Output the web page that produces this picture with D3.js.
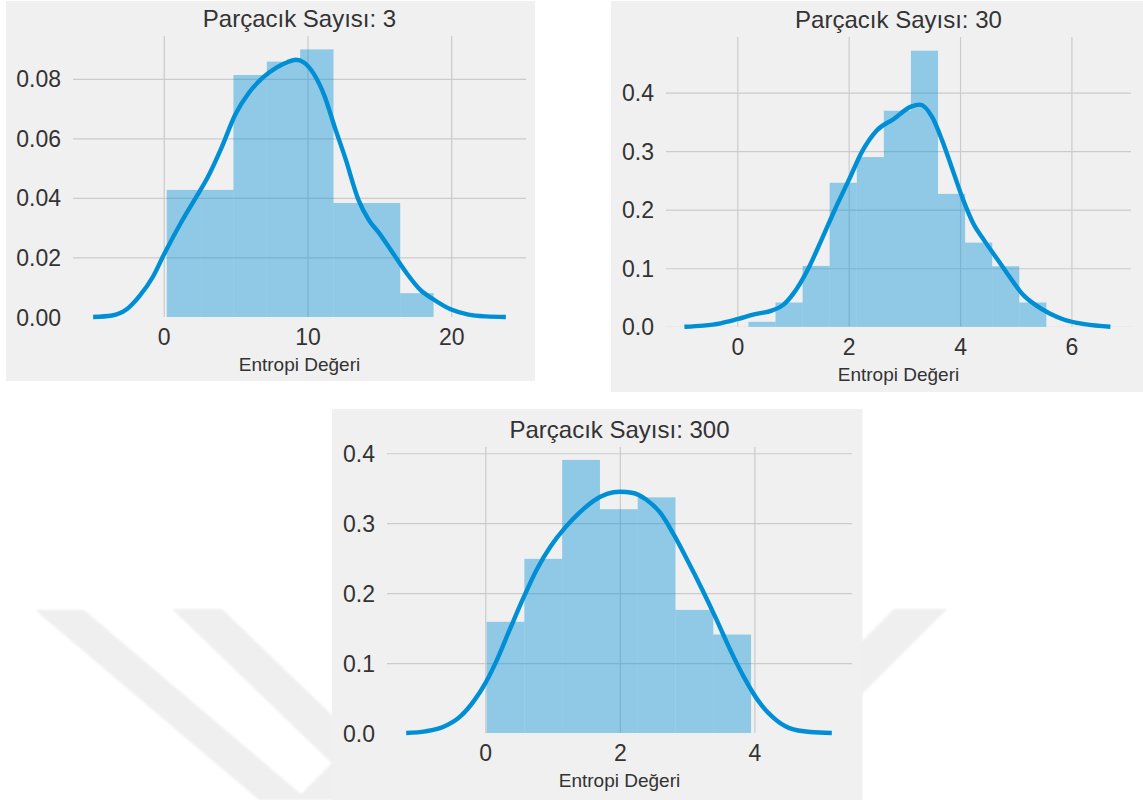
<!DOCTYPE html>
<html>
<head>
<meta charset="utf-8">
<script src="https://cdn.jsdelivr.net/npm/d3@7"></script>
<style>
  body { margin: 0; background: #ffffff; }
  svg { display: block; }
  text { font-family: "Liberation Sans", Arial, Helvetica, sans-serif; fill: #333333; }
</style>
</head>
<body>
<svg id="chart" width="1143" height="800"></svg>
<script>
// ---- Data: histogram densities and KDE curves of entropy values ----
const xLabel = "Entropi Değeri";

// 3 particles
const title3 = "Parçacık Sayısı: 3";
const binEdges3 = [0.21, 2.53, 4.85, 7.17, 9.49, 11.81, 14.13, 16.45, 18.77];
const density3 = [0.0427, 0.0427, 0.0813, 0.0858, 0.0899, 0.0383, 0.0383, 0.0080];
const kdeX3 = [-4.91, -3.6, -2.6, -1.69, -0.74, 0, 1.17, 2.12, 3.07, 4.03, 4.98, 5.94, 6.89, 7.84, 8.6, 9.2, 9.75, 10.46, 11.18, 11.9, 12.61, 13.56, 14.28, 15.0, 15.95, 16.9, 17.85, 18.8, 20, 21.2, 22.4, 23.8];
const kdeY3 = [0, 0.0005, 0.0025, 0.007, 0.0136, 0.0208, 0.0314, 0.0392, 0.047, 0.057, 0.068, 0.0754, 0.0804, 0.0838, 0.0856, 0.0864, 0.0855, 0.0815, 0.0743, 0.0637, 0.0537, 0.0392, 0.0325, 0.0281, 0.0214, 0.0147, 0.0091, 0.0058, 0.0025, 0.0008, 0.0002, 0];
const xTicks3 = [0, 10, 20];
const yTicks3 = [0, 0.02, 0.04, 0.06, 0.08];
const yTickLabels3 = ["0.00", "0.02", "0.04", "0.06", "0.08"];

// 30 particles
const title30 = "Parçacık Sayısı: 30";
const binEdges30 = [0.20, 0.686, 1.173, 1.659, 2.146, 2.632, 3.118, 3.605, 4.091, 4.578, 5.064, 5.55];
const density30 = [0.0085, 0.0415, 0.104, 0.246, 0.290, 0.369, 0.4716, 0.227, 0.1438, 0.1034, 0.0415];
const kdeX30 = [-0.95, -0.61, -0.30, 0, 0.32, 0.63, 0.82, 1.01, 1.26, 1.51, 1.76, 2.0, 2.25, 2.50, 2.81, 3.12, 3.28, 3.5, 3.68, 3.87, 4.06, 4.24, 4.43, 4.68, 4.93, 5.11, 5.36, 5.61, 5.86, 6.24, 6.70];
const kdeY30 = [0, 0.002, 0.006, 0.013, 0.0216, 0.028, 0.037, 0.057, 0.0966, 0.148, 0.2017, 0.25, 0.301, 0.335, 0.355, 0.376, 0.3795, 0.358, 0.318, 0.267, 0.216, 0.176, 0.148, 0.114, 0.08, 0.057, 0.037, 0.0227, 0.0125, 0.0045, 0];
const xTicks30 = [0, 2, 4, 6];
const yTicks30 = [0, 0.1, 0.2, 0.3, 0.4];
const yTickLabels30 = ["0.0", "0.1", "0.2", "0.3", "0.4"];

// 300 particles
const title300 = "Parçacık Sayısı: 300";
const binEdges300 = [0.02, 0.581, 1.143, 1.704, 2.266, 2.827, 3.388, 3.95];
const density300 = [0.159, 0.249, 0.3905, 0.32, 0.337, 0.176, 0.1408];
const kdeX300 = [-1.175, -0.89, -0.63, -0.37, -0.16, 0, 0.15, 0.36, 0.57, 0.77, 0.98, 1.19, 1.40, 1.61, 1.81, 2.0, 2.18, 2.39, 2.60, 2.80, 3.01, 3.22, 3.43, 3.63, 3.84, 4.05, 4.26, 4.52, 4.83, 5.15];
const kdeY300 = [0, 0.0024, 0.0085, 0.0237, 0.047, 0.071, 0.0995, 0.147, 0.194, 0.2346, 0.268, 0.294, 0.315, 0.332, 0.342, 0.345, 0.3436, 0.334, 0.315, 0.284, 0.246, 0.206, 0.1635, 0.121, 0.0806, 0.047, 0.0237, 0.007, 0.0014, 0];
const xTicks300 = [0, 2, 4];
const yTicks300 = [0, 0.1, 0.2, 0.3, 0.4];
const yTickLabels300 = ["0.0", "0.1", "0.2", "0.3", "0.4"];

// ---- Layout of the three panels ----
const panels = [
  { title: title3, edges: binEdges3, dens: density3, kx: kdeX3, ky: kdeY3,
    xTicks: xTicks3, yTicks: yTicks3, yLabels: yTickLabels3,
    frame: { x: 6, y: 1, w: 529, h: 380 },
    plot: { left: 73, right: 526, top: 36, bottom: 317 },
    xDomain: [-6.31, 25.2], yDomain: [0, 0.0944] },
  { title: title30, edges: binEdges30, dens: density30, kx: kdeX30, ky: kdeY30,
    xTicks: xTicks30, yTicks: yTicks30, yLabels: yTickLabels30,
    frame: { x: 611, y: 1, w: 532, h: 391 },
    plot: { left: 666, right: 1131, top: 37, bottom: 326.8 },
    xDomain: [-1.28, 7.07], yDomain: [0, 0.495] },
  { title: title300, edges: binEdges300, dens: density300, kx: kdeX300, ky: kdeY300,
    xTicks: xTicks300, yTicks: yTicks300, yLabels: yTickLabels300,
    frame: { x: 332, y: 409, w: 530.5, h: 391 },
    plot: { left: 387, right: 852, top: 446.7, bottom: 733 },
    xDomain: [-1.46, 5.45], yDomain: [0, 0.4094] }
];

const svg = d3.select("#chart");
const defs = svg.append("defs");
defs.append("filter").attr("id", "soft")
  .append("feGaussianBlur").attr("stdDeviation", 1.2);

// Faint background emblem behind the panels
const emblem = svg.append("g").attr("filter", "url(#soft)").attr("fill", "#efefef");
[
  [[35, 610], [84, 610], [308, 800], [259, 800]],
  [[172, 609], [222, 609], [420, 800], [370, 800]],
  [[295, 800], [348, 800], [540, 609], [487, 609]],
  [[894, 609], [947, 609], [756, 800], [703, 800]]
].forEach(pts => emblem.append("polygon").attr("points", pts.map(p => p.join(",")).join(" ")));

const BLUE = "#008fd5";

panels.forEach((p, i) => {
  const g = svg.append("g");
  const { left, right, top, bottom } = p.plot;

  g.append("rect")
    .attr("x", p.frame.x).attr("y", p.frame.y)
    .attr("width", p.frame.w).attr("height", p.frame.h)
    .attr("fill", "#f0f0f0");

  const x = d3.scaleLinear().domain(p.xDomain).range([left, right]);
  const y = d3.scaleLinear().domain(p.yDomain).range([bottom, top]);

  const clipId = "clip" + i;
  defs.append("clipPath").attr("id", clipId)
    .append("rect").attr("x", left).attr("y", top)
    .attr("width", right - left).attr("height", bottom - top);

  // grid lines drawn through axis generators
  const grid = g.append("g").attr("clip-path", `url(#${clipId})`);
  grid.append("g")
    .attr("transform", `translate(0,${bottom})`)
    .call(d3.axisBottom(x).tickValues(p.xTicks).tickSize(-(bottom - top)).tickFormat(""))
    .call(a => a.select(".domain").remove())
    .call(a => a.selectAll("line").attr("stroke", "#cbcbcb").attr("stroke-width", 1.2));
  grid.append("g")
    .attr("transform", `translate(${left},0)`)
    .call(d3.axisLeft(y).tickValues(p.yTicks).tickSize(-(right - left)).tickFormat(""))
    .call(a => a.select(".domain").remove())
    .call(a => a.selectAll("line").attr("stroke", "#cbcbcb").attr("stroke-width", 1.2));

  // histogram bars
  const bins = p.dens.map((d, k) => ({ x0: p.edges[k], x1: p.edges[k + 1], d }));
  g.append("g").selectAll("rect").data(bins).join("rect")
    .attr("x", b => x(b.x0))
    .attr("width", b => x(b.x1) - x(b.x0))
    .attr("y", b => y(b.d))
    .attr("height", b => y(0) - y(b.d))
    .attr("fill", BLUE).attr("fill-opacity", 0.4);

  // KDE curve
  const pts = p.kx.map((v, k) => [v, p.ky[k]]);
  g.append("path")
    .datum(pts)
    .attr("d", d3.line().x(d => x(d[0])).y(d => y(d[1])).curve(d3.curveMonotoneX))
    .attr("fill", "none").attr("stroke", BLUE)
    .attr("stroke-width", 4.4).attr("stroke-linecap", "butt");

  // tick labels
  const xAx = g.append("g")
    .attr("transform", `translate(0,${bottom})`)
    .call(d3.axisBottom(x).tickValues(p.xTicks).tickSize(0).tickPadding(0).tickFormat(d3.format("d")));
  xAx.select(".domain").remove();
  xAx.selectAll("text")
    .attr("dy", null).attr("y", 28)
    .style("font-size", "23px").attr("fill", "#333333");

  const yAx = g.append("g")
    .attr("transform", `translate(${left},0)`)
    .call(d3.axisLeft(y).tickValues(p.yTicks).tickSize(0).tickPadding(0)
      .tickFormat((d, k) => p.yLabels[k]));
  yAx.select(".domain").remove();
  yAx.selectAll("text")
    .attr("dy", null).attr("x", -12).attr("y", 8)
    .style("font-size", "23px").attr("fill", "#333333");

  // title and axis label
  g.append("text")
    .attr("x", (left + right) / 2).attr("y", top - 9)
    .attr("text-anchor", "middle")
    .style("font-size", "24px")
    .text(p.title);

  g.append("text")
    .attr("x", (left + right) / 2).attr("y", bottom + 54)
    .attr("text-anchor", "middle")
    .style("font-size", "19px")
    .text(xLabel);
});
</script>
</body>
</html>
